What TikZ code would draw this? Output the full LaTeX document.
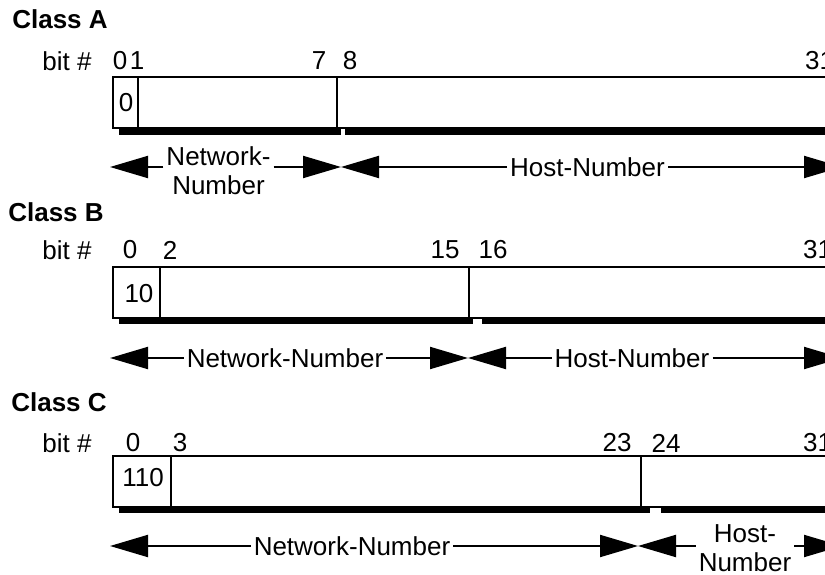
\documentclass[tikz,border=0pt]{standalone}
\usepackage{fontspec}
\setmainfont{Liberation Sans}
\usetikzlibrary{arrows.meta}
\begin{document}
\begin{tikzpicture}[x=1pt,y=-1pt,
  lbl/.style={font=\fontsize{26}{29}\selectfont, inner sep=0pt},
  ttl/.style={font=\bfseries\fontsize{26}{29}\selectfont, inner sep=0pt},
  dim/.style={font=\fontsize{26}{29}\selectfont, inner xsep=3pt, inner ysep=0pt, align=center},
  fld/.style={draw, line width=1.8pt},
  shd/.style={fill=black},
  dline/.style={line width=2pt},
  tipr/.style={-{Triangle[length=38pt,width=22pt]}},
]
\useasboundingbox (0,0) rectangle (825,575);
\fill[white] (0,0) rectangle (825,575);
\clip (0,0) rectangle (825,575);

% ---------- Class A ----------
\node[ttl] (ca) at (60,19) {Class A};
\node[lbl] (bitA) at (67,61) {bit \#};
\node[lbl] (a0) at (120,61) {0};
\node[lbl] (a1) at (137,61) {1};
\node[lbl] (a7) at (319,61) {7};
\node[lbl] (a8) at (350,61) {8};
\node[lbl,anchor=west] (a31) at (805,61) {31};
\fill[shd] (119,128) rectangle (341,135);
\fill[shd] (345,128) rectangle (850,135);
\draw[fld] (113,77) rectangle (850,128);
\draw[fld] (138,77) -- (138,128);
\draw[fld] (337,77) -- (337,128);
\node[lbl] (a0v) at (126,103) {0};
\coordinate (aL) at (110,167);
\coordinate (aM) at (341,167);
\coordinate (aR) at (842,167);
\node[dim] (anet) at (218.5,171) {Network-\\Number};
\node[dim] (ahost) at (587.5,167) {Host-Number};
\draw[dline,tipr] (anet.west |- aL) -- (aL);
\draw[dline,tipr] (anet.east |- aM) -- (aM);
\draw[dline,tipr] (ahost.west) -- (aM);
\draw[dline,tipr] (ahost.east) -- (aR);

% ---------- Class B ----------
\node[ttl] (cb) at (56,212) {Class B};
\node[lbl] (bitB) at (67,250) {bit \#};
\node[lbl] (b0) at (130,250) {0};
\node[lbl] (b2) at (170,250) {2};
\node[lbl] (b15) at (445,250) {15};
\node[lbl] (b16) at (493,250) {16};
\node[lbl,anchor=west] (b31) at (803,250) {31};
\fill[shd] (119,318) rectangle (473,324);
\fill[shd] (482,318) rectangle (850,324);
\draw[fld] (113,267) rectangle (850,318);
\draw[fld] (160,267) -- (160,318);
\draw[fld] (469,267) -- (469,318);
\node[lbl] (b10) at (139,294) {10};
\coordinate (bL) at (110,358);
\coordinate (bM) at (468,358);
\coordinate (bR) at (842,358);
\node[dim] (bnet) at (285,358) {Network-Number};
\node[dim] (bhost) at (632,358) {Host-Number};
\draw[dline,tipr] (bnet.west) -- (bL);
\draw[dline,tipr] (bnet.east) -- (bM);
\draw[dline,tipr] (bhost.west) -- (bM);
\draw[dline,tipr] (bhost.east) -- (bR);

% ---------- Class C ----------
\node[ttl] (cc) at (59,402) {Class C};
\node[lbl] (bitC) at (67,443) {bit \#};
\node[lbl] (c0) at (133,443) {0};
\node[lbl] (c3) at (180,443) {3};
\node[lbl] (c23) at (617,443) {23};
\node[lbl] (c24) at (666,443) {24};
\node[lbl,anchor=west] (c31) at (803,443) {31};
\fill[shd] (119,507) rectangle (650,513);
\fill[shd] (661,507) rectangle (850,513);
\draw[fld] (113,456) rectangle (850,507);
\draw[fld] (171,456) -- (171,507);
\draw[fld] (641,456) -- (641,507);
\node[lbl] (c110) at (143,478) {110};
\coordinate (cL) at (110,546);
\coordinate (cM) at (638,546);
\coordinate (cR) at (842,546);
\node[dim] (cnet) at (352,546) {Network-Number};
\node[dim] (chost) at (745,548) {Host-\\Number};
\draw[dline,tipr] (cnet.west) -- (cL);
\draw[dline,tipr] (cnet.east) -- (cM);
\draw[dline,tipr] (chost.west |- cM) -- (cM);
\draw[dline,tipr] (chost.east |- cR) -- (cR);
\end{tikzpicture}
\end{document}
